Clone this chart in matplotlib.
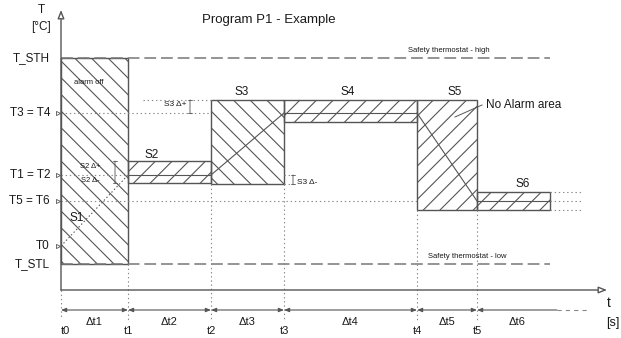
import matplotlib.pyplot as plt
from matplotlib.patches import Rectangle

plt.rcParams['font.family'] = ['Liberation Sans', 'DejaVu Sans']
plt.rcParams['hatch.linewidth'] = 0.8
plt.rcParams['lines.scale_dashes'] = False

# time marks t0..t5 and end of the program
t_marks = [0, 67, 150, 223, 356, 416]
t_end = 489
t_labels = ['t0', 't1', 't2', 't3', 't4', 't5']
dt_labels = ['Δt1', 'Δt2', 'Δt3', 'Δt4', 'Δt5', 'Δt6']

# temperature levels
T_STH = 232
T_STL = 26
T0 = 44
T12 = 115   # T1 = T2
T34 = 177   # T3 = T4
T56 = 89    # T5 = T6
level_names = ['T_STH', 'T3 = T4', 'T1 = T2', 'T5 = T6', 'T0', 'T_STL']
level_values = [T_STH, T34, T12, T56, T0, T_STL]
level_marked = [False, True, True, True, True, False]

# program steps
step_names = ['S1', 'S2', 'S3', 'S4', 'S5', 'S6']
step_from = [T0, T12, T12, T34, T34, T56]
step_to = [T12, T12, T34, T34, T56, T56]
delta_plus = [None, 14, 13, 13, 13, 9]
delta_minus = [None, 8, 9, 9, 9, 9]
step_hatch = ['\\\\', '//', '\\\\', '//', '//', '//']

line_c = '#555555'
text_c = '#1a1a1a'
dot = dict(color='#8a8a8a', lw=0.8, ls=(0, (1, 2)))

fig = plt.figure(figsize=(6.21, 3.38), dpi=100)
ax = fig.add_axes([0, 0, 1, 1])
ax.set_xlim(-61, 560)
ax.set_ylim(-48, 290)
ax.axis('off')

# alarm zones
t_bounds = t_marks + [t_end]
lows, highs = [], []
for i, name in enumerate(step_names):
    x0, x1 = t_bounds[i], t_bounds[i + 1]
    if delta_plus[i] is None:
        lo, hi = T_STL, T_STH
    else:
        lo = min(step_from[i], step_to[i]) - delta_minus[i]
        hi = max(step_from[i], step_to[i]) + delta_plus[i]
    lows.append(lo)
    highs.append(hi)
    ax.add_patch(Rectangle((x0, lo), x1 - x0, hi - lo, fill=False,
                           hatch=step_hatch[i], edgecolor=line_c, lw=1.0))
    ax.plot([x0, x1], [step_from[i], step_to[i]], color=line_c, lw=0.8,
            ls=':' if i == 0 else '-')

# step labels
label_pos = [(16, 72), (91, 135), (181, 198), (287, 198), (394, 198), (462, 106)]
for name, (x, y) in zip(step_names, label_pos):
    ax.text(x, y, name, ha='center', va='center', fontsize=8.5, color=text_c)

# safety thermostat lines
for T, txt, tx in [(T_STH, 'Safety thermostat - high', 347),
                   (T_STL, 'Safety thermostat - low', 367)]:
    ax.plot([0, t_end], [T, T], color='#777777', lw=1.1, dashes=(8.5, 3.5))
    ax.text(tx, T + 7, txt, fontsize=5.5, color=text_c, va='center')

# dotted helper lines
ax.plot([0, t_marks[2]], [T34, T34], **dot)
ax.plot([82, t_marks[2]], [T34 + delta_plus[2]] * 2, **dot)
ax.plot([0, t_marks[1]], [T12, T12], **dot)
ax.plot([0, t_marks[4]], [T56, T56], **dot)
ax.plot([t_marks[3], t_marks[3] + 9], [T12, T12], **dot)
ax.plot([t_marks[3], t_marks[3] + 9], [lows[2], lows[2]], **dot)
for y in [highs[5], T56, lows[5]]:
    ax.plot([t_end, t_end + 32], [y, y], **dot)
ax.plot([0, 0], [0, -28], **dot)
for i in range(1, len(t_marks)):
    ax.plot([t_marks[i]] * 2, [min(lows[i - 1], lows[i]), -30], **dot)

# delta markers
bar = dict(arrowstyle='|-|,widthA=0.15,widthB=0.15', color=line_c, lw=0.6,
           shrinkA=0, shrinkB=0)
ax.annotate('', xy=(54, T12 + delta_plus[1]), xytext=(54, T12 - delta_minus[1]), arrowprops=bar)
ax.annotate('', xy=(129, T34 + delta_plus[2]), xytext=(129, T34), arrowprops=bar)
ax.annotate('', xy=(232, T12), xytext=(232, T12 - delta_minus[2]), arrowprops=bar)
ax.text(29, 124, 'S2 Δ+', fontsize=5.5, color=text_c, ha='center', va='center')
ax.text(29, 110, 'S2 Δ-', fontsize=5.5, color=text_c, ha='center', va='center')
ax.text(126, 186, 'S3 Δ+', fontsize=6, color=text_c, ha='right', va='center')
ax.text(236, 108, 'S3 Δ-', fontsize=6, color=text_c, ha='left', va='center')
ax.text(28, 207, 'alarm off', fontsize=5.5, color=text_c, ha='center', va='center')

# no alarm area
ax.plot([394, 421], [173, 185], color=line_c, lw=0.7)
ax.text(425, 185, 'No Alarm area', fontsize=8.5, color=text_c, va='center')

# axes
arrow = dict(arrowstyle='-|>,head_length=0.5,head_width=0.2', fc='white',
             ec=line_c, lw=1.0, shrinkA=0, shrinkB=0)
ax.annotate('', xy=(0, 280), xytext=(0, 0), arrowprops=arrow)
ax.annotate('', xy=(546, 0), xytext=(0, 0), arrowprops=arrow)
ax.text(-20, 280, 'T', fontsize=8.5, color=text_c, ha='center', va='center')
ax.text(-20, 263, '[°C]', fontsize=8.5, color=text_c, ha='center', va='center')
ax.text(548, -13, 't', fontsize=10, color=text_c, ha='center', va='center')
ax.text(552, -33, '[s]', fontsize=9, color=text_c, ha='center', va='center')

# level labels
for name, T, m in zip(level_names, level_values, level_marked):
    ax.text(-11, T, name, fontsize=8.5, color=text_c, ha='right', va='center')
    if m:
        ax.plot(-3, T, marker='>', ms=3, mfc='white', mec=line_c, mew=0.6)

# time dimension line
dim_y = -20
dim = dict(arrowstyle='<|-|>,head_length=0.3,head_width=0.12', color=line_c,
           lw=0.8, shrinkA=0, shrinkB=0)
for i in range(len(t_marks) - 1):
    ax.annotate('', xy=(t_marks[i + 1], dim_y), xytext=(t_marks[i], dim_y), arrowprops=dim)
ax.annotate('', xy=(t_marks[-1], dim_y), xytext=(496, dim_y),
            arrowprops=dict(dim, arrowstyle='-|>,head_length=0.3,head_width=0.12'))
ax.plot([496, 529], [dim_y, dim_y], color='#888888', lw=0.8, dashes=(3, 3))
dt_ends = t_marks[1:] + [496]
for a, b, lab in zip(t_marks, dt_ends, dt_labels):
    ax.text((a + b) / 2, -32, lab, fontsize=8, color=text_c, ha='center', va='center')
for i, (t, lab) in enumerate(zip(t_marks, t_labels)):
    ax.text(t + (4 if i == 0 else 0), -41, lab, fontsize=8, color=text_c,
            ha='center', va='center')

ax.text(208, 270, 'Program P1 - Example', fontsize=9.5, color=text_c,
        ha='center', va='center')

fig.savefig('out.png', dpi=100)
